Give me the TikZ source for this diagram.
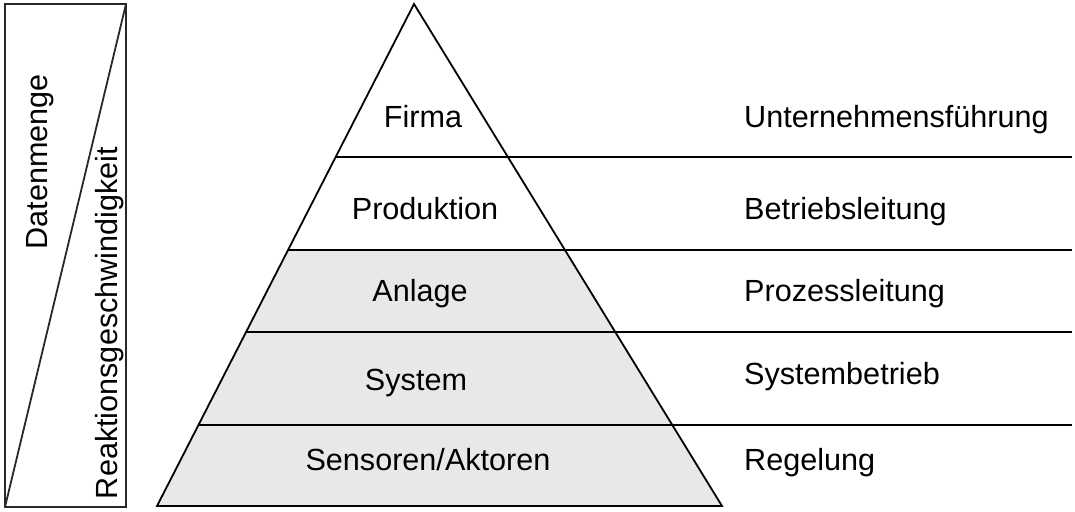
\documentclass[tikz,border=0pt]{standalone}
\usepackage{fontspec}
\setmainfont{Liberation Sans}
\usetikzlibrary{calc}
\definecolor{layergray}{RGB}{232,232,232}
\definecolor{boxline}{RGB}{40,40,40}

\begin{document}
\begin{tikzpicture}[x=1pt,y=-1pt,
  edge/.style={line width=1.8pt,black},
  lbl/.style={font=\fontsize{30.6}{36}\selectfont,inner sep=0pt,anchor=base},
  side/.style={lbl,anchor=base west}]
\useasboundingbox (0,0) rectangle (1075,511);

% Corners (pyramid)
\coordinate (Top) at (414,4);
\coordinate (BL) at (157,506);
\coordinate (BR) at (722,506);
\coordinate (End) at (1072,0);

% Level borders on both edges
\foreach \t/\n in {0.3048/1,0.4900/2,0.6534/3,0.8386/4} {
  \coordinate (L\n) at ($(Top)!\t!(BL)$);
  \coordinate (R\n) at ($(Top)!\t!(BR)$);
}

% Grey lower levels
\fill[layergray] (L2) -- (R2) -- (BR) -- (BL) -- cycle;

% Pyramid and level lines
\draw[edge,line join=miter] (Top) -- (BR) -- (BL) -- cycle;
\foreach \n in {1,2,3,4}
  \draw[edge] (L\n) -- (L\n -| End);

% Box with diagonal
\draw[line width=1.8pt,boxline] (5,4) rectangle (126,507);
\draw[line width=1.8pt,boxline] (5,507) -- (126,4);
\node[lbl,rotate=90] (DM) at (47,162) {Datenmenge};
\node[lbl,rotate=90] (RG) at (117,323) {Reaktionsgeschwindigkeit};

% Nodes (levels)
\node[lbl] (Firma) at (423,127) {Firma};
\node[lbl] (Prod) at (425,219) {Produktion};
\node[lbl] (Anl) at (420,301) {Anlage};
\node[lbl] (Sys) at (416,390) {System};
\node[lbl] (Sen) at (428,470) {Sensoren/Aktoren};

% Nodes (tasks)
\node[side] (UF) at (744,127) {Unternehmensführung};
\node[side] (BLt) at (744,219) {Betriebsleitung};
\node[side] (PL) at (744,301) {Prozessleitung};
\node[side] (SB) at (744,384) {Systembetrieb};
\node[side] (Reg) at (744,470) {Regelung};
\end{tikzpicture}
\end{document}
